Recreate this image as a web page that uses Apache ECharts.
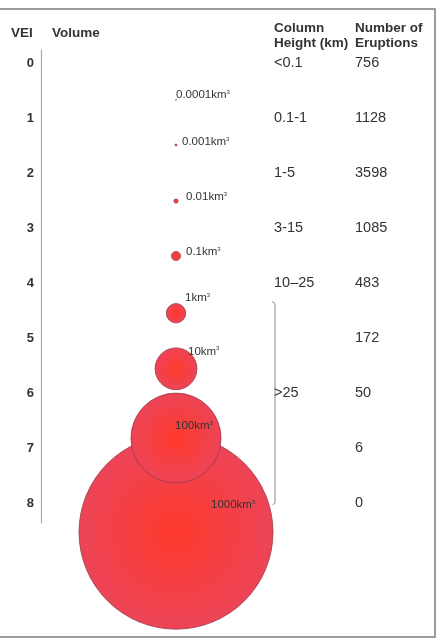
<!DOCTYPE html>
<html>
<head>
<meta charset="utf-8">
<script src="https://cdn.jsdelivr.net/npm/echarts@6/dist/echarts.min.js"></script>
<style>
  html, body { margin: 0; padding: 0; background: #fff; }
  #chart { width: 439px; height: 639px; }
</style>
</head>
<body>
<div id="chart"></div>
<script>
// VEI rows and table columns
const veiLevels = [0, 1, 2, 3, 4, 5, 6, 7, 8];
const columnHeights = ['<0.1', '0.1-1', '1-5', '3-15', '10\u201325', '', '>25', '', ''];
const eruptions = [756, 1128, 3598, 1085, 483, 172, 50, 6, 0];

// ejecta volume circles (km3) and the row position each is drawn at
const volumes = [0.0001, 0.001, 0.01, 0.1, 1, 10, 100, 1000];
const volumeNames = ['0.0001km', '0.001km', '0.01km', '0.1km', '1km', '10km', '100km', '1000km'];
const volumeRows = [0.67, 1.49, 2.51, 3.51, 4.55, 5.56, 6.82, 8.53];

const FONT = "'Liberation Sans', Arial, sans-serif";
const TEXT = '#333';

// label nudges so each volume label sits top-right of its circle
const labelOffsets = [[0, -5], [6, -3], [10, -4], [10, -4], [9, -15], [12, -17], [-1, -12], [35, -27]];
const volumeColumn = 135;

// radius grows with the cube root of volume
const radiusOf = v => 9.7 * Math.cbrt(v);

const circleData = volumes.map((v, i) => ({
  value: [volumeColumn, volumeRows[i]],
  symbolSize: Math.max(2 * radiusOf(v), 0.8),
  label: {
    offset: labelOffsets[i],
    formatter: '{n|' + volumeNames[i] + '}{s|3}'
  }
})).reverse(); // biggest drawn first, smaller ones on top

const yMin = -13 / 55;
const yMax = 460 / 55;

function rowAxis(offset, values, fmt) {
  return {
    type: 'value', position: 'left', offset: offset, inverse: true,
    min: yMin, max: yMax,
    axisLine: { show: false }, axisTick: { show: false }, splitLine: { show: false },
    axisLabel: {
      customValues: values, inside: true, margin: 0,
      formatter: fmt, fontFamily: FONT, fontSize: 14.5, color: TEXT
    }
  };
}

const chart = echarts.init(document.getElementById('chart'));

const header = (text, x, y) => ({
  type: 'text', x: x, y: y,
  style: { text: text, font: 'bold 13.5px ' + FONT, fill: TEXT, textVerticalAlign: 'middle' }
});

chart.setOption({
  animation: false,
  backgroundColor: '#fff',
  grid: { left: 41, right: 0, top: 50, bottom: 116 },
  xAxis: { type: 'value', min: 0, max: 398, show: false },
  yAxis: [
    {
      type: 'value', inverse: true, min: yMin, max: yMax,
      axisLine: { show: true, lineStyle: { color: '#a8a8a8', width: 1.2 } },
      axisTick: { show: false }, splitLine: { show: false },
      axisLabel: {
        customValues: veiLevels, margin: 7,
        formatter: v => String(v),
        fontFamily: FONT, fontSize: 13, fontWeight: 'bold', color: TEXT
      }
    },
    rowAxis(-233, veiLevels.filter(v => columnHeights[v] !== ''), v => columnHeights[v]),
    rowAxis(-314, veiLevels, v => String(eruptions[v]))
  ],
  series: [{
    type: 'scatter',
    clip: false,
    symbol: 'circle',
    data: circleData,
    itemStyle: {
      color: {
        type: 'radial', x: 0.5, y: 0.5, r: 0.5,
        colorStops: [{ offset: 0, color: '#ff3a2c' }, { offset: 1, color: '#ec4457' }]
      },
      borderColor: '#9a3a46',
      borderWidth: 0.8,
      opacity: 1
    },
    emphasis: { disabled: true },
    label: {
      show: true, position: 'inside', align: 'left', verticalAlign: 'middle',
      rich: {
        n: { fontFamily: FONT, fontSize: 11.5, color: TEXT, lineHeight: 12 },
        s: { fontFamily: FONT, fontSize: 6, color: TEXT, verticalAlign: 'top', lineHeight: 12 }
      }
    }
  }],
  graphic: [
    {
      type: 'rect', shape: { x: -2, y: 9, width: 437, height: 628 },
      style: { fill: 'none', stroke: '#7c7c7c', lineWidth: 1.5 }, z: 100
    },
    header('VEI', 11, 33),
    header('Volume', 52, 33),
    header('Column', 274, 28),
    header('Height (km)', 274, 43.5),
    header('Number of', 355, 28),
    header('Eruptions', 355, 43.5),
    {
      type: 'polyline',
      shape: { points: [[272, 301.5], [275, 303.5], [275, 503], [272.5, 505]] },
      style: { stroke: '#8a8a8a', lineWidth: 1, fill: 'none' }
    }
  ]
});
</script>
</body>
</html>
